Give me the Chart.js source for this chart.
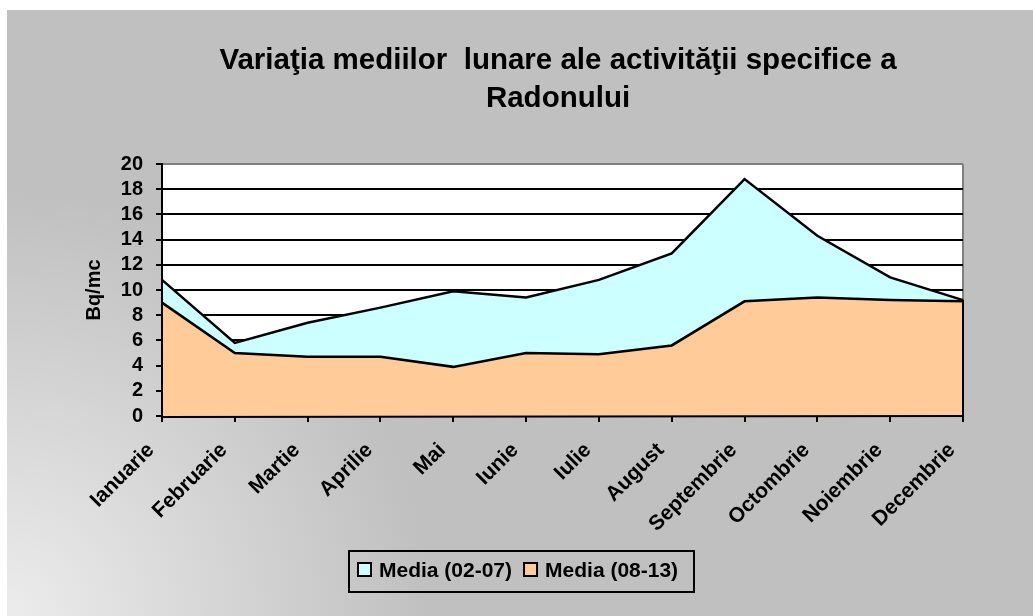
<!DOCTYPE html>
<html>
<head>
<meta charset="utf-8">
<script src="https://cdn.jsdelivr.net/npm/chart.js@4/dist/chart.umd.min.js"></script>
<style>
  html, body { margin: 0; padding: 0; background: #ffffff; }
  #wrap { position: relative; width: 1033px; height: 616px; }
</style>
</head>
<body>
<div id="wrap"><canvas id="c" width="1033" height="616"></canvas></div>
<script>
const titleLines = ["Variaţia mediilor  lunare ale activităţii specifice a", "Radonului"];
const months = ["Ianuarie", "Februarie", "Martie", "Aprilie", "Mai", "Iunie", "Iulie", "August", "Septembrie", "Octombrie", "Noiembrie", "Decembrie"];
const seriesNames = ["Media (02-07)", "Media (08-13)"];
const media0207 = [10.8, 5.8, 7.4, 8.6, 9.9, 9.4, 10.8, 12.9, 18.8, 14.3, 11.0, 9.2];
const media0813 = [9.0, 5.0, 4.7, 4.7, 3.9, 5.0, 4.9, 5.6, 9.1, 9.4, 9.2, 9.1];
const yAxisTitle = "Bq/mc";
const yMin = 0, yMax = 20, yStep = 2;

const FONT = "'Liberation Sans', Arial, sans-serif";

const decorPlugin = {
  id: 'decor',
  beforeDraw(chart) {
    const ctx = chart.ctx;
    ctx.save();
    const g = ctx.createRadialGradient(7, 616, 0, 7, 616, 420);
    g.addColorStop(0, '#ececec');
    g.addColorStop(1, '#c0c0c0');
    ctx.fillStyle = g;
    ctx.fillRect(7, 10, chart.width - 7, chart.height - 10);
    const a = chart.chartArea;
    ctx.fillStyle = '#ffffff';
    ctx.fillRect(a.left, a.top, a.right - a.left, a.bottom - a.top);
    ctx.strokeStyle = '#808080';
    ctx.lineWidth = 2;
    ctx.beginPath();
    ctx.moveTo(a.right, a.top);
    ctx.lineTo(a.right, a.bottom);
    ctx.stroke();
    ctx.fillStyle = '#000000';
    ctx.font = "bold 29.5px " + FONT;
    ctx.textAlign = 'center';
    ctx.textBaseline = 'alphabetic';
    ctx.fillText(titleLines[0], 558, 69);
    ctx.fillText(titleLines[1], 558, 107);
    ctx.restore();
  },
  afterDatasetsDraw(chart) {
    const ctx = chart.ctx;
    const a = chart.chartArea;
    ctx.save();
    ctx.strokeStyle = '#000000';
    ctx.lineWidth = 2;
    chart.data.datasets.forEach((ds, i) => {
      const meta = chart.getDatasetMeta(i);
      const last = meta.data[meta.data.length - 1];
      ctx.beginPath();
      ctx.moveTo(last.x, last.y);
      ctx.lineTo(last.x, a.bottom);
      ctx.stroke();
    });
    ctx.beginPath();
    ctx.moveTo(a.left, a.top);
    ctx.lineTo(a.left, a.bottom + 1);
    ctx.lineTo(a.right + 1, a.bottom);
    ctx.stroke();
    ctx.restore();
  },
  afterDraw(chart) {
    const ctx = chart.ctx;
    ctx.save();
    const lx = 349, ly = 551, lw = 345, lh = 41;
    ctx.strokeStyle = '#000000';
    ctx.lineWidth = 2;
    ctx.strokeRect(lx, ly, lw, lh);
    ctx.font = "bold 21px " + FONT;
    ctx.textAlign = 'left';
    ctx.textBaseline = 'alphabetic';
    let x = lx + 9;
    chart.data.datasets.forEach((ds) => {
      ctx.fillStyle = ds.backgroundColor;
      ctx.fillRect(x, 563, 13, 13);
      ctx.lineWidth = 2;
      ctx.strokeStyle = '#000000';
      ctx.strokeRect(x, 563, 13, 13);
      ctx.fillStyle = '#000000';
      ctx.fillText(ds.label, x + 21, 577);
      x += 21 + ctx.measureText(ds.label).width + 12;
    });
    ctx.restore();
  }
};

new Chart(document.getElementById('c'), {
  type: 'line',
  data: {
    labels: months,
    datasets: [
      {
        label: seriesNames[0],
        data: media0207,
        backgroundColor: '#ccffff',
        borderColor: '#000000',
        borderWidth: 2.5,
        fill: 'origin',
        pointRadius: 0,
        tension: 0,
        order: 2
      },
      {
        label: seriesNames[1],
        data: media0813,
        backgroundColor: '#ffcc99',
        borderColor: '#000000',
        borderWidth: 2.5,
        fill: 'origin',
        pointRadius: 0,
        tension: 0,
        order: 1
      }
    ]
  },
  options: {
    responsive: false,
    animation: false,
    devicePixelRatio: 1,
    layout: { padding: { left: 70, right: 70, top: 164, bottom: 80 } },
    plugins: {
      legend: { display: false },
      title: { display: false },
      tooltip: { enabled: false }
    },
    scales: {
      x: {
        offset: false,
        afterFit(s) { s.height = 120; },
        grid: { display: true, drawOnChartArea: false, drawTicks: true, tickLength: 6, color: '#000000', lineWidth: 2 },
        border: { display: true, color: '#000000', width: 2 },
        ticks: {
          autoSkip: false,
          maxRotation: 45,
          minRotation: 45,
          padding: 16,
          labelOffset: -11,
          color: '#000000',
          font: { family: FONT, size: 21, weight: 'bold' }
        }
      },
      y: {
        min: yMin,
        max: yMax,
        afterFit(s) { s.width = 92; },
        grid: {
          color: (c) => (c.tick && c.tick.value === yMax ? '#808080' : '#000000'),
          tickColor: '#000000',
          lineWidth: 2,
          tickLength: 6,
          drawTicks: true
        },
        border: { display: true, color: '#000000', width: 2 },
        ticks: {
          autoSkip: false,
          stepSize: yStep,
          padding: 13,
          color: '#000000',
          font: { family: FONT, size: 20, weight: 'bold' }
        },
        title: {
          display: true,
          text: yAxisTitle,
          color: '#000000',
          padding: { top: 12, bottom: 0 },
          font: { family: FONT, size: 20, weight: 'bold' }
        }
      }
    }
  },
  plugins: [decorPlugin]
});
</script>
</body>
</html>
